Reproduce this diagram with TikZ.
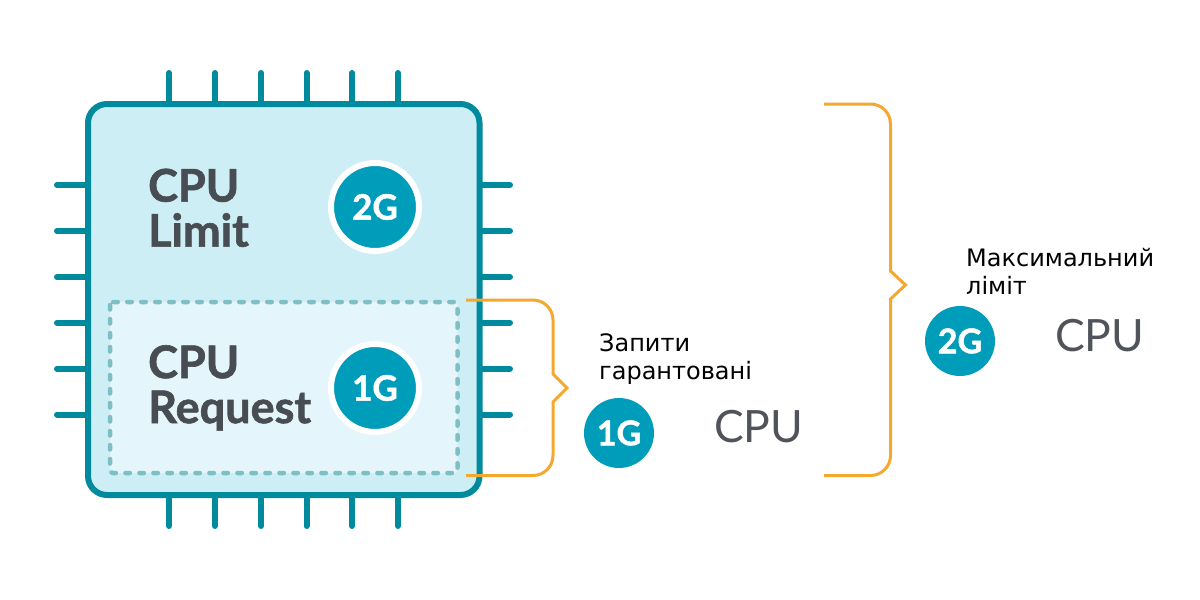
\documentclass[tikz,border=0pt]{standalone}
\usepackage{fontspec}
\setmainfont{Lato}
\newfontfamily\labelfont{DejaVu Sans}
\newfontfamily\heavyfont{Lato}[BoldFeatures={FakeBold=1.4}]
\usetikzlibrary{positioning}
\definecolor{chipline}{HTML}{008A9E}
\definecolor{chipfill}{HTML}{CDEEF5}
\definecolor{reqfill}{HTML}{E4F6FB}
\definecolor{reqline}{HTML}{7DBFC5}
\definecolor{badgefill}{HTML}{009DBA}
\definecolor{bracecol}{HTML}{F5A82E}
\definecolor{titlecol}{HTML}{484D53}
\definecolor{cpucol}{HTML}{505359}

\begin{document}
\begin{tikzpicture}[
	x=1pt, y=-1pt,
	pin/.style = {draw=chipline, line width=6pt, line cap=round},
	chip/.style = {draw=chipline, fill=chipfill, line width=6pt, rounded corners=19pt},
	reqbox/.style = {draw=reqline, fill=reqfill, line width=4.5pt, line cap=round, dash pattern=on 4.5pt off 9.5pt, rounded corners=3pt},
	title/.style = {anchor=north west, inner sep=0pt, align=left, text=titlecol, font=\heavyfont\fontsize{45}{45}\selectfont\bfseries},
	badge/.style = {circle, fill=badgefill, draw=white, line width=6pt, minimum size=88pt, inner sep=0pt, text=white, font=\heavyfont\fontsize{35}{35}\selectfont\bfseries},
	smallbadge/.style = {circle, fill=badgefill, minimum size=70pt, inner sep=0pt, text=white, font=\heavyfont\fontsize{34}{34}\selectfont\bfseries},
	note/.style = {anchor=north west, inner sep=0pt, align=left, text=black, font=\labelfont\fontsize{24}{28}\selectfont},
	cpu/.style = {anchor=base west, inner sep=0pt, text=cpucol, font=\fontsize{44.5}{44}\selectfont},
	brace/.style = {draw=bracecol, line width=3pt},
]
\useasboundingbox (0,0) rectangle (1200,600);

% pins of the chip
\foreach \x in {169,215,261,306.5,352,398} {
	\draw[pin] (\x,73) -- (\x,104);
	\draw[pin] (\x,495) -- (\x,526);
}
\foreach \y in {185,231,277,322.7,368.7,414.5} {
	\draw[pin] (57,\y) -- (88,\y);
	\draw[pin] (479,\y) -- (510,\y);
}

\draw[chip] (88,104) rectangle (479.5,495);
\draw[reqbox] (110,302) rectangle (457.5,473);

\node[title] (limit) at (148,168.5) {CPU\\Limit};
\node[badge] (limit-badge) at (375,207) {2G};
\node[title] (request) at (148,345) {CPU\\Request};
\node[badge] (request-badge) at (375,388) {1G};

% braces
\coordinate (req-top) at (466,300);
\coordinate (req-tip) at (567,388);
\coordinate (req-bottom) at (466,475.5);
\coordinate (lim-top) at (824,104);
\coordinate (lim-tip) at (905.5,285);
\coordinate (lim-bottom) at (824,475.5);
\draw[brace] (req-top) [rounded corners=20pt] -- (553,300) -- (553,340) [sharp corners] -- (553,374) -- (req-tip) -- (553,402) -- (553,430) [rounded corners=20pt] -- (553,475.5) -- (req-bottom);
\draw[brace] (lim-top) [rounded corners=20pt] -- (890.5,104) -- (890.5,200) [sharp corners] -- (890.5,271) -- (lim-tip) -- (890.5,299) -- (890.5,400) [rounded corners=20pt] -- (890.5,475.5) -- (lim-bottom);

\node[note] (req-note) at (599,333) {Запити\\гарантовані};
\node[smallbadge] (req-small) at (619,433) {1G};
\node[cpu] (req-cpu) at (714,442) {CPU};

\node[note] (lim-note) at (966,248) {Максимальний\\ліміт};
\node[smallbadge] (lim-small) at (960,341) {2G};
\node[cpu] (lim-cpu) at (1055,351) {CPU};
\end{tikzpicture}
\end{document}
